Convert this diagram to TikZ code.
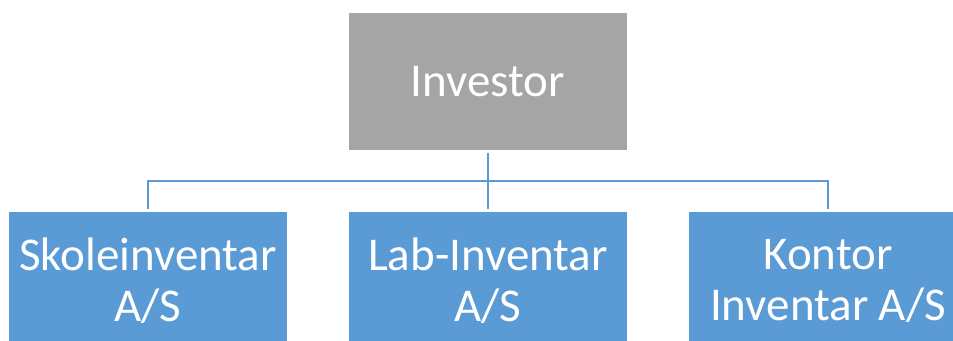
\documentclass[tikz,border=0pt]{standalone}
\usepackage{fontspec}
\setmainfont{Carlito}
\definecolor{boxblue}{HTML}{5B9BD5}
\definecolor{boxgray}{HTML}{A5A5A5}
\tikzset{
  orgbox/.style={rectangle, minimum width=278pt, minimum height=137pt,
    inner sep=0pt, text=white, align=center,
    font=\fontsize{47}{51}\selectfont},
  parentbox/.style={orgbox, fill=boxgray},
  childbox/.style={orgbox, fill=boxblue},
  conn/.style={draw=boxblue, line width=2pt, shorten <=3pt, shorten >=3pt}
}
\begin{document}
\begin{tikzpicture}[x=1pt, y=-1pt]
  \useasboundingbox (0,0) rectangle (953,340);
  \clip (0,0) rectangle (953,340);
  % parent company
  \node[parentbox] (inv) at (488,81.5) {Investor};
  % subsidiaries
  \node[childbox] (skole) at (148,280.5) {Skoleinventar\\A/S};
  \node[childbox] (lab) at (488,280.5) {Lab-Inventar\\A/S};
  \node[childbox] (kontor) at (828,280.5) {Kontor\\Inventar A/S};
  % ownership lines
  \coordinate (hub) at ([yshift=-31pt]inv.south);
  \draw[conn, shorten >=0pt] (inv.south) -- (hub);
  \draw[conn, shorten <=0pt] (hub) -| (skole.north);
  \draw[conn, shorten <=0pt] (hub) -- (lab.north);
  \draw[conn, shorten <=0pt] (hub) -| (kontor.north);
\end{tikzpicture}
\end{document}
